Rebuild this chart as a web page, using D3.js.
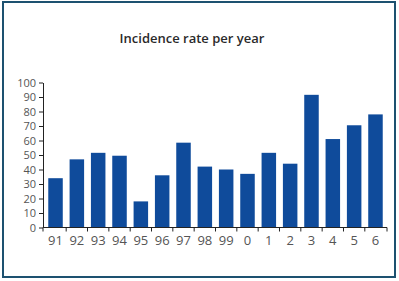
<!DOCTYPE html>
<html>
<head>
<meta charset="utf-8">
<script src="https://cdn.jsdelivr.net/npm/d3@7"></script>
<style>
  body { margin: 0; background: #fff; }
  .axis text { font-family: "Open Sans", "DejaVu Sans", sans-serif; font-size: 13px; fill: #555; }
  .axis path, .axis line { stroke: #222; }
  .yaxis text { font-size: 11px; }
</style>
</head>
<body>
<div id="chart"></div>
<script>
var years = ['91','92','93','94','95','96','97','98','99','0','1','2','3','4','5','6'];
var rates = [34, 47, 51.5, 49.5, 18, 36, 58.5, 42, 40, 37, 51.5, 44, 91.5, 61, 70.5, 78];
var yTicks = [0,10,20,30,40,50,60,70,80,90,100];

var width = 399, height = 281;

var svg = d3.select('#chart').append('svg')
    .attr('width', width)
    .attr('height', height);

// frame
svg.append('rect')
    .attr('x', 3).attr('y', 2)
    .attr('width', 392).attr('height', 275)
    .attr('fill', 'none')
    .attr('stroke', '#1d5170')
    .attr('stroke-width', 2);

svg.append('text')
    .attr('x', 192)
    .attr('y', 43)
    .attr('text-anchor', 'middle')
    .attr('font-family', '"Open Sans", "DejaVu Sans", sans-serif')
    .attr('font-size', 13)
    .attr('font-weight', 600)
    .attr('fill', '#2a2a2a')
    .text('Incidence rate per year');

var x = d3.scaleBand()
    .domain(years)
    .range([44, 387])
    .paddingInner(0.32)
    .paddingOuter(0.2);

var y = d3.scaleLinear()
    .domain([0, 100])
    .range([227.5, 82.5]);

svg.selectAll('.bar')
    .data(rates)
    .enter().append('rect')
    .attr('class', 'bar')
    .attr('x', (d,i) => x(years[i]))
    .attr('y', d => y(d))
    .attr('width', x.bandwidth())
    .attr('height', d => y(0) - y(d))
    .attr('fill', '#0f4b9b');

// x axis with ticks between bars
var xAxis = svg.append('g')
    .attr('class', 'axis')
    .attr('transform', `translate(0,${y(0)})`);
xAxis.append('line')
    .attr('x1', 43).attr('x2', 387)
    .attr('stroke', '#222');
var bounds = [43].concat(years.slice(1).map(v => x(v) - x.step()*x.paddingInner()/2), [387]);
xAxis.selectAll('.tk')
    .data(bounds)
    .enter().append('line')
    .attr('x1', d => d).attr('x2', d => d)
    .attr('y1', 0).attr('y2', 4)
    .attr('stroke', '#222');
xAxis.selectAll('.lbl')
    .data(years)
    .enter().append('text')
    .attr('x', d => x(d) + x.bandwidth()/2)
    .attr('y', 17)
    .attr('text-anchor', 'middle')
    .text(d => d);

svg.append('g')
    .attr('class', 'axis yaxis')
    .attr('transform', 'translate(43,0)')
    .call(d3.axisLeft(y).tickValues(yTicks).tickSize(4).tickSizeOuter(0).tickPadding(3));
</script>
</body>
</html>
